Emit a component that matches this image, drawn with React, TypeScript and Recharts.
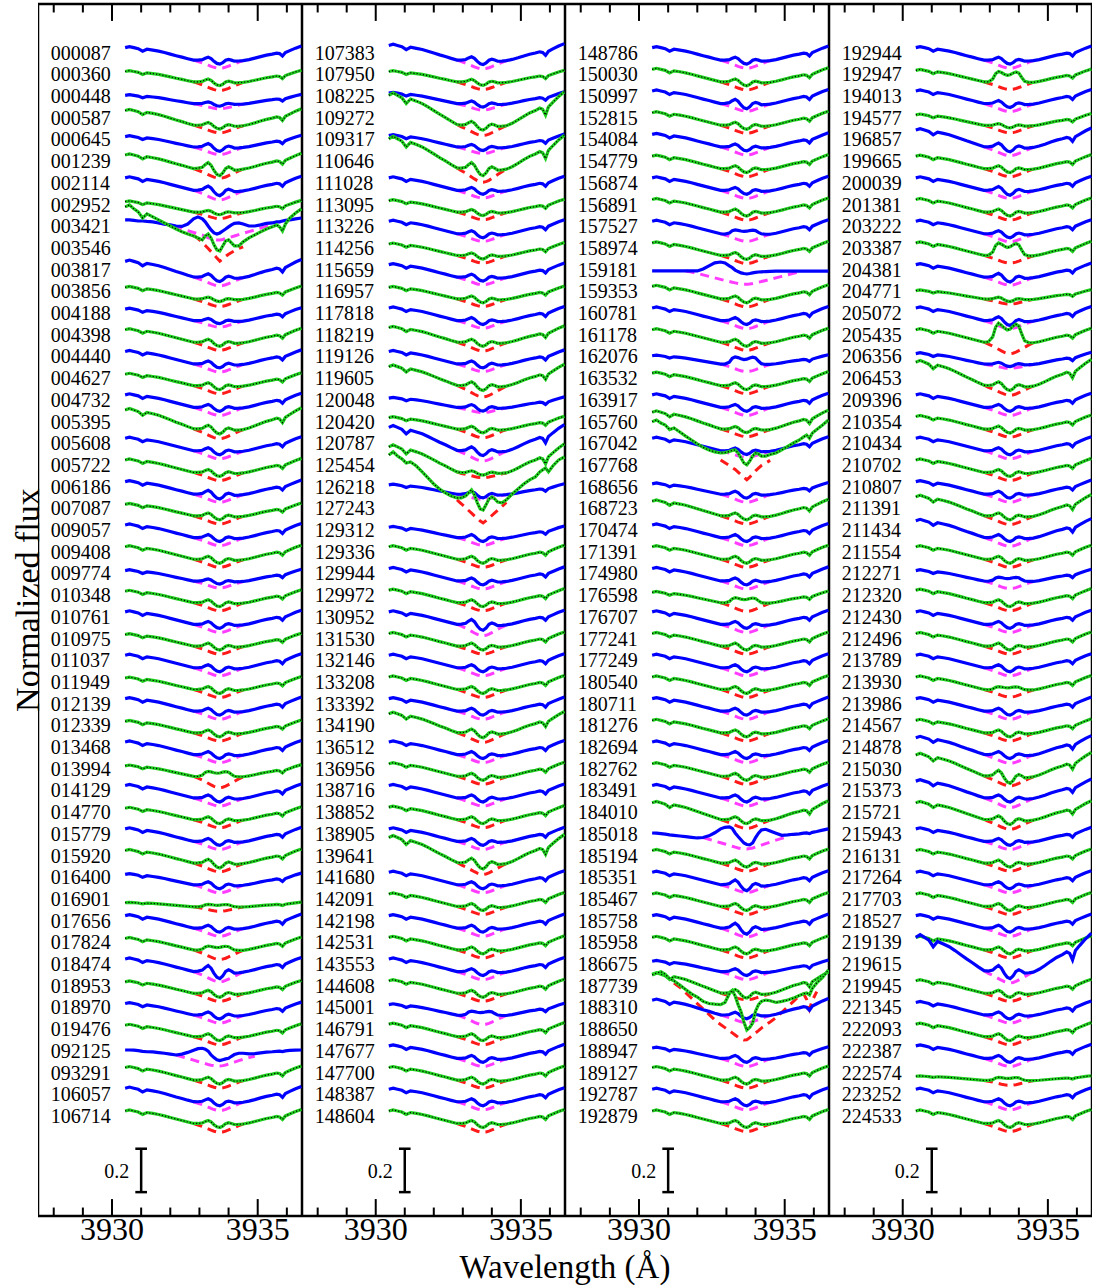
import {
  ComposedChart,
  Line,
  ReferenceArea,
  ReferenceLine,
  Scatter,
  XAxis,
  YAxis,
} from 'recharts'

// wavelength grid (Å) shared by every spectrum
const WAVE = [
  3930.45, 3930.6, 3930.75, 3930.9, 3931.05, 3931.2, 3931.4, 3931.6, 3931.8, 3932.0, 3932.2,
  3932.4, 3932.6, 3932.8, 3932.95, 3933.1, 3933.2, 3933.3, 3933.4, 3933.5, 3933.6, 3933.7,
  3933.8, 3933.9, 3934.0, 3934.1, 3934.2, 3934.35, 3934.5, 3934.7, 3934.9, 3935.1, 3935.3,
  3935.5, 3935.65, 3935.75, 3935.85, 3935.95, 3936.1, 3936.3, 3936.5,
]

// broad photospheric profile, height above the line-core continuum (1 = blue edge)
const WING = [
  1.0, 1.08, 1.0, 0.92, 0.73, 0.88, 0.81, 0.73, 0.62, 0.5, 0.38, 0.27, 0.15, 0.04, 0, 0, 0, 0, 0,
  0, 0, 0, 0, 0, 0, 0, 0, 0, 0, 0.08, 0.19, 0.31, 0.42, 0.5, 0.58, 0.54, 0.35, 0.62, 0.77, 0.96,
  1.12,
]

// Ca II K core reversal (dip = -1 at line centre)
const CORE = [
  0, 0, 0, 0, 0, 0, 0, 0, 0, 0, 0, 0, 0, 0, 0.15, 0.3, 0.7, 1.0, 0.6, -0.2, -0.8, -1.0, -0.6, 0.1,
  0.35, 0.15, -0.15, -0.1, 0, 0, 0, 0, 0, 0, 0, 0, 0, 0, 0, 0, 0,
]

// double-peaked core emission (peak = 1)
const EMIT = [
  0, 0, 0, 0, 0, 0, 0, 0, 0, 0, 0, 0, 0, 0, 0.05, 0.3, 0.8, 1.0, 0.9, 0.75, 0.65, 0.7, 0.85, 0.95,
  0.85, 0.45, 0.1, 0, 0, 0, 0, 0, 0, 0, 0, 0, 0, 0, 0, 0, 0,
]

// interstellar absorption model (depth = 1 at line centre)
const FIT: (number | null)[] = [
  null, null, null, null, null, null, null, null, null, null, null, null, null, 0, 0.12, 0.3,
  0.45, 0.6, 0.75, 0.88, 0.97, 1.0, 0.96, 0.86, 0.72, 0.57, 0.42, 0.2, 0, null, null, null, null,
  null, null, null, null, null, null, null, null,
]

// stars whose spectra do not follow the common shape: flux relative to their offset level
const S003421 = [
  0.066, 0.066, 0.064, 0.061, 0.061, 0.059, 0.057, 0.052, 0.047, 0.043, 0.038, 0.036, 0.047,
  0.071, 0.08, 0.071, 0.057, 0.038, 0.02, 0.006, 0.001, 0.006, 0.015, 0.024, 0.034, 0.043, 0.05,
  0.052, 0.047, 0.038, 0.038, 0.043, 0.05, 0.052, 0.057, 0.057, 0.061, 0.064, 0.066, 0.071, 0.075,
]
const F003421 = [
  null, null, null, null, null, null, null, 0.052, 0.047, 0.04, 0.032, 0.024, 0.016, 0.008, 0.002,
  -0.004, -0.01, -0.016, -0.02, -0.024, -0.026, -0.026, -0.024, -0.02, -0.016, -0.012, -0.008,
  -0.002, 0.004, 0.012, 0.02, 0.028, 0.036, 0.044, 0.05, null, null, null, null, null, null,
]
const S003546 = [
  0.226, 0.235, 0.217, 0.203, 0.175, 0.194, 0.18, 0.166, 0.152, 0.138, 0.124, 0.111, 0.101,
  0.092, 0.083, 0.074, 0.092, 0.101, 0.083, 0.051, 0.028, 0.023, 0.046, 0.069, 0.074, 0.06, 0.046,
  0.046, 0.065, 0.083, 0.097, 0.111, 0.124, 0.134, 0.143, 0.134, 0.115, 0.147, 0.175, 0.198, 0.217,
]
const F003546 = [
  null, null, null, null, null, null, null, null, null, null, null, null, null, 0.095, 0.08, 0.062,
  0.048, 0.034, 0.02, 0.006, -0.01, -0.024, -0.014, -0.002, 0.008, 0.016, 0.024, 0.034, 0.042,
  null, null, null, null, null, null, null, null, null, null, null, null,
]
const S092125 = [
  0.041, 0.041, 0.04, 0.038, 0.035, 0.033, 0.032, 0.029, 0.026, 0.022, 0.018, 0.022, 0.03, 0.04,
  0.047, 0.049, 0.045, 0.036, 0.018, 0.006, -0.004, -0.008, -0.004, 0.0, 0.003, 0.012, 0.02,
  0.026, 0.026, 0.023, 0.024, 0.028, 0.031, 0.033, 0.035, 0.036, 0.034, 0.037, 0.039, 0.04, 0.041,
]
const F092125 = [
  null, null, null, null, null, null, null, null, null, null, 0.018, 0.01, 0.002, -0.006, -0.012,
  -0.018, -0.022, -0.026, -0.029, -0.031, -0.033, -0.033, -0.031, -0.028, -0.024, -0.02, -0.015,
  -0.008, -0.002, 0.006, 0.012, null, null, null, null, null, null, null, null, null, null,
]
const S127243 = [
  0.283, 0.297, 0.278, 0.265, 0.246, 0.251, 0.232, 0.205, 0.177, 0.149, 0.126, 0.108, 0.094,
  0.085, 0.085, 0.094, 0.108, 0.122, 0.099, 0.062, 0.034, 0.029, 0.053, 0.08, 0.089, 0.08, 0.066,
  0.062, 0.076, 0.103, 0.126, 0.149, 0.168, 0.182, 0.205, 0.214, 0.223, 0.205, 0.232, 0.26, 0.274,
]
const F127243 = [
  null, null, null, null, null, null, null, null, null, null, null, null, null, 0.076, 0.058,
  0.039, 0.027, 0.015, 0.002, -0.01, -0.022, -0.03, -0.02, -0.008, 0.004, 0.016, 0.028, 0.046,
  0.064, null, null, null, null, null, null, null, null, null, null, null, null,
]
const S159181 = [
  0.031, 0.031, 0.031, 0.031, 0.031, 0.031, 0.031, 0.031, 0.031, 0.031, 0.04, 0.054, 0.068, 0.072,
  0.068, 0.054, 0.046, 0.035, 0.028, 0.022, 0.019, 0.017, 0.019, 0.022, 0.024, 0.026, 0.027,
  0.028, 0.029, 0.03, 0.03, 0.03, 0.03, 0.03, 0.03, 0.03, 0.03, 0.03, 0.03, 0.03, 0.03,
]
const F159181 = [
  null, null, null, null, null, null, null, 0.031, 0.026, 0.02, 0.013, 0.006, -0.001, -0.008,
  -0.013, -0.018, -0.021, -0.024, -0.027, -0.029, -0.03, -0.03, -0.029, -0.027, -0.024, -0.021,
  -0.018, -0.013, -0.008, -0.001, 0.006, 0.013, 0.02, 0.027, null, null, null, null, null, null,
  null,
]
const S167768 = [
  0.236, 0.244, 0.23, 0.221, 0.2, 0.207, 0.189, 0.17, 0.152, 0.134, 0.118, 0.106, 0.097, 0.092,
  0.094, 0.099, 0.104, 0.106, 0.092, 0.069, 0.046, 0.037, 0.055, 0.078, 0.092, 0.088, 0.078,
  0.078, 0.085, 0.092, 0.106, 0.122, 0.138, 0.152, 0.166, 0.175, 0.16, 0.184, 0.2, 0.221, 0.244,
]
const F167768 = [
  null, null, null, null, null, null, null, null, null, null, null, null, null, 0.06, 0.047, 0.034,
  0.025, 0.016, 0.004, -0.008, -0.02, -0.031, -0.019, -0.005, 0.01, 0.022, 0.034, 0.046, 0.058,
  null, null, null, null, null, null, null, null, null, null, null, null,
]
const S185018 = [
  0.041, 0.04, 0.038, 0.036, 0.032, 0.03, 0.027, 0.024, 0.021, 0.018, 0.02, 0.028, 0.042, 0.06,
  0.067, 0.069, 0.062, 0.041, 0.025, 0.01, -0.005, -0.012, -0.014, -0.005, 0.02, 0.04, 0.055,
  0.058, 0.05, 0.04, 0.03, 0.032, 0.035, 0.037, 0.04, 0.041, 0.038, 0.044, 0.048, 0.054, 0.06,
]
const F185018 = [
  null, null, null, null, null, null, null, null, null, null, 0.02, 0.012, 0.004, -0.004, -0.01,
  -0.016, -0.02, -0.024, -0.028, -0.031, -0.033, -0.033, -0.031, -0.028, -0.024, -0.02, -0.015,
  -0.008, -0.001, 0.008, 0.016, 0.024, null, null, null, null, null, null, null, null, null,
]
const S188650 = [
  0.287, 0.295, 0.302, 0.29, 0.27, 0.26, 0.24, 0.22, 0.2, 0.185, 0.165, 0.155, 0.152, 0.15, 0.16,
  0.2, 0.215, 0.19, 0.15, 0.118, 0.07, 0.033, 0.045, 0.065, 0.12, 0.15, 0.165, 0.171, 0.168, 0.16,
  0.165, 0.171, 0.18, 0.192, 0.2, 0.204, 0.195, 0.225, 0.25, 0.275, 0.31,
]
const F188650 = [
  null, null, null, null, null, 0.25, 0.23, 0.205, 0.18, 0.155, 0.13, 0.105, 0.08, 0.058, 0.044,
  0.03, 0.02, 0.01, 0.0, -0.008, -0.013, -0.012, -0.002, 0.01, 0.02, 0.03, 0.042, 0.057, 0.07,
  0.09, 0.115, 0.14, 0.165, 0.19, 0.2, 0.175, 0.13, 0.17, 0.21, null, null,
]

const SPECIAL: Record<string, [number[], (number | null)[]]> = {
  '003421': [S003421, F003421],
  '003546': [S003546, F003546],
  '092125': [S092125, F092125],
  '127243': [S127243, F127243],
  '159181': [S159181, F159181],
  '167768': [S167768, F167768],
  '185018': [S185018, F185018],
  '188650': [S188650, F188650],
}

// panel 1
const IDS_A = [
  '000087', '000360', '000448', '000587', '000645', '001239', '002114', '002952', '003421',
  '003546', '003817', '003856', '004188', '004398', '004440', '004627', '004732', '005395',
  '005608', '005722', '006186', '007087', '009057', '009408', '009774', '010348', '010761',
  '010975', '011037', '011949', '012139', '012339', '013468', '013994', '014129', '014770',
  '015779', '015920', '016400', '016901', '017656', '017824', '018474', '018953', '018970',
  '019476', '092125', '093291', '106057', '106714',
]
const WING_A = [
  0.06, 0.05, 0.04, 0.07, 0.05, 0.065, 0.06, 0.05, 0, 0, 0.075, 0.055, 0.055, 0.06, 0.06, 0.055,
  0.06, 0.09, 0.06, 0.06, 0.06, 0.055, 0.06, 0.06, 0.05, 0.055, 0.06, 0.055, 0.06, 0.055, 0.06,
  0.055, 0.06, 0.05, 0.06, 0.055, 0.06, 0.06, 0.05, 0.02, 0.06, 0.055, 0.06, 0.055, 0.055, 0.055,
  0, 0.06, 0.065, 0.06,
]
const CORE_A = [
  0.016, 0.015, 0.01, 0.015, 0.018, 0.03, 0.022, 0.01, 0, 0, 0.018, 0.01, 0.012, 0.016, 0.016,
  0.016, 0.016, 0.02, 0.016, 0.016, 0.02, 0.016, 0.016, 0.016, 0.012, 0.016, 0.016, 0.016, 0.016,
  0.016, 0.016, 0.016, 0.016, 0, 0.016, 0.016, 0.016, 0.02, 0.016, 0, 0.016, 0, 0.03, 0.016,
  0.016, 0.016, 0, 0.016, 0.016, 0.016,
]
const EMIT_A = [
  0, 0, 0, 0, 0, 0, 0, 0, 0, 0, 0, 0, 0, 0, 0, 0, 0, 0, 0, 0, 0, 0, 0, 0, 0, 0, 0, 0, 0, 0, 0, 0,
  0, 0.025, 0, 0, 0, 0, 0, 0.012, 0, 0.02, 0, 0, 0, 0, 0, 0, 0, 0,
]
const FIT_A = [
  0.035, 0.038, 0.022, 0.033, 0.033, 0.042, 0.042, 0.028, 0, 0, 0.038, 0.033, 0.028, 0.035, 0.035,
  0.035, 0.035, 0.042, 0.035, 0.035, 0.035, 0.035, 0.035, 0.035, 0.03, 0.035, 0.035, 0.035, 0.035,
  0.035, 0.035, 0.035, 0.035, 0.05, 0.035, 0.035, 0.035, 0.038, 0.035, 0.02, 0.035, 0.042, 0.045,
  0.035, 0.035, 0.035, 0, 0.035, 0.038, 0.038,
]

// panel 2
const IDS_B = [
  '107383', '107950', '108225', '109272', '109317', '110646', '111028', '113095', '113226',
  '114256', '115659', '116957', '117818', '118219', '119126', '119605', '120048', '120420',
  '120787', '125454', '126218', '127243', '129312', '129336', '129944', '129972', '130952',
  '131530', '132146', '133208', '133392', '134190', '136512', '136956', '138716', '138852',
  '138905', '139641', '141680', '142091', '142198', '142531', '143553', '144608', '145001',
  '146791', '147677', '147700', '148387', '148604',
]
const WING_B = [
  0.07, 0.05, 0.05, 0.14, 0.055, 0.14, 0.06, 0.055, 0.06, 0.055, 0.06, 0.055, 0.06, 0.07, 0.06,
  0.09, 0.045, 0.055, 0.11, 0.12, 0.045, 0, 0.05, 0.06, 0.06, 0.06, 0.06, 0.06, 0.06, 0.06, 0.06,
  0.09, 0.06, 0.06, 0.06, 0.06, 0.06, 0.12, 0.06, 0.06, 0.06, 0.06, 0.06, 0.06, 0.05, 0.06, 0.06,
  0.06, 0.06, 0.06,
]
const CORE_B = [
  0.018, 0.014, 0.014, 0.02, 0.014, 0.03, 0.016, 0.014, 0.016, 0.014, 0.016, 0.016, 0.016, 0.016,
  0.016, 0.02, 0.015, 0.015, 0.02, 0.01, 0.015, 0, 0.016, 0.016, 0.016, 0.016, 0.025, 0.016,
  0.016, 0.016, 0.016, 0.02, 0.016, 0.016, 0.016, 0.016, 0.016, 0.025, 0.016, 0.016, 0.016, 0.016,
  0.016, 0.016, 0, 0.016, 0.016, 0.016, 0.016, 0.016,
]
const EMIT_B = [
  0, 0, 0, 0, 0, 0, 0, 0, 0, 0, 0, 0, 0, 0, 0, 0, 0, 0, 0, 0, 0, 0, 0, 0, 0, 0, 0, 0, 0, 0, 0, 0,
  0, 0, 0, 0, 0, 0, 0, 0, 0, 0, 0, 0, 0.02, 0, 0, 0, 0, 0,
]
const FIT_B = [
  0.038, 0.033, 0.028, 0.045, 0.028, 0.06, 0.033, 0.033, 0.033, 0.033, 0.033, 0.033, 0.033, 0.038,
  0.033, 0.05, 0.022, 0.038, 0.045, 0.022, 0.022, 0, 0.033, 0.035, 0.035, 0.035, 0.05, 0.035,
  0.035, 0.035, 0.035, 0.042, 0.035, 0.035, 0.035, 0.035, 0.035, 0.05, 0.035, 0.035, 0.035, 0.035,
  0.035, 0.035, 0.042, 0.035, 0.035, 0.035, 0.035, 0.038,
]

// panel 3
const IDS_C = [
  '148786', '150030', '150997', '152815', '154084', '154779', '156874', '156891', '157527',
  '158974', '159181', '159353', '160781', '161178', '162076', '163532', '163917', '165760',
  '167042', '167768', '168656', '168723', '170474', '171391', '174980', '176598', '176707',
  '177241', '177249', '180540', '180711', '181276', '182694', '182762', '183491', '184010',
  '185018', '185194', '185351', '185467', '185758', '185958', '186675', '187739', '188310',
  '188650', '188947', '189127', '192787', '192879',
]
const WING_C = [
  0.06, 0.06, 0.06, 0.06, 0.06, 0.06, 0.06, 0.06, 0.06, 0.06, 0, 0.06, 0.06, 0.06, 0.04, 0.06,
  0.06, 0.08, 0.06, 0, 0.05, 0.07, 0.06, 0.06, 0.06, 0.05, 0.06, 0.06, 0.06, 0.06, 0.06, 0.06,
  0.06, 0.06, 0.06, 0.08, 0, 0.06, 0.06, 0.06, 0.06, 0.06, 0.05, 0.09, 0.07, 0, 0.05, 0.06,
  0.06, 0.06,
]
const CORE_C = [
  0.016, 0.016, 0.022, 0.016, 0.016, 0.016, 0.016, 0.016, 0, 0.016, 0, 0.016, 0.016, 0.016, 0,
  0.016, 0.016, 0.014, 0.015, 0, 0.016, 0.016, 0.016, 0.016, 0.016, 0, 0.016, 0.016, 0.016, 0.016,
  0.016, 0.016, 0.016, 0.016, 0.016, 0.016, 0, 0.016, 0.025, 0.016, 0.025, 0.016, 0.016, 0.02,
  0.015, 0, 0.016, 0.016, 0.016, 0.016,
]
const EMIT_C = [
  0, 0, 0, 0, 0, 0, 0, 0, 0.02, 0, 0, 0, 0, 0, 0.035, 0, 0, 0, 0, 0, 0, 0, 0, 0, 0, 0.025, 0, 0,
  0, 0, 0, 0, 0, 0, 0, 0, 0, 0, 0, 0, 0, 0, 0, 0, 0, 0, 0, 0, 0, 0,
]
const FIT_C = [
  0.035, 0.035, 0.033, 0.035, 0.035, 0.035, 0.035, 0.035, 0.033, 0.035, 0, 0.035, 0.035, 0.035,
  0.033, 0.035, 0.035, 0.033, 0.028, 0, 0.035, 0.035, 0.035, 0.035, 0.035, 0.038, 0.035, 0.035,
  0.035, 0.035, 0.035, 0.035, 0.035, 0.035, 0.035, 0.038, 0, 0.035, 0.033, 0.035, 0.038, 0.035,
  0.035, 0.028, 0.033, 0, 0.035, 0.035, 0.035, 0.035,
]

// panel 4
const IDS_D = [
  '192944', '192947', '194013', '194577', '196857', '199665', '200039', '201381', '203222',
  '203387', '204381', '204771', '205072', '205435', '206356', '206453', '209396', '210354',
  '210434', '210702', '210807', '211391', '211434', '211554', '212271', '212320', '212430',
  '212496', '213789', '213930', '213986', '214567', '214878', '215030', '215373', '215721',
  '215943', '216131', '217264', '217703', '218527', '219139', '219615', '219945', '221345',
  '222093', '222387', '222574', '223252', '224533',
]
const WING_D = [
  0.06, 0.055, 0.06, 0.05, 0.08, 0.06, 0.06, 0.06, 0.06, 0.06, 0.06, 0.04, 0.06, 0.06, 0.05, 0.11,
  0.06, 0.06, 0.06, 0.06, 0.06, 0.09, 0.08, 0.06, 0.05, 0.06, 0.06, 0.06, 0.06, 0.06, 0.06, 0.06,
  0.08, 0.1, 0.08, 0.08, 0.06, 0.06, 0.06, 0.06, 0.06, 0.06, 0.16, 0.06, 0.06, 0.06, 0.06, 0.02,
  0.06, 0.06,
]
const CORE_D = [
  0.016, 0, 0.016, 0.01, 0.02, 0.016, 0.02, 0.016, 0.016, 0, 0.02, 0.01, 0.02, 0, 0.01, 0.02,
  0.016, 0.016, 0.016, 0.016, 0.016, 0.016, 0.016, 0.016, 0, 0.016, 0.016, 0.016, 0.016, 0, 0.016,
  0.016, 0.016, 0.03, 0.016, 0.02, 0.016, 0.016, 0.016, 0.016, 0.016, 0.016, 0.03, 0.016, 0.016,
  0.016, 0.016, 0, 0.016, 0.016,
]
const EMIT_D = [
  0, 0.05, 0, 0, 0, 0, 0, 0, 0, 0.06, 0, 0, 0, 0.09, 0, 0, 0, 0, 0, 0, 0, 0, 0, 0, 0.02, 0, 0, 0,
  0, 0.015, 0, 0, 0, 0, 0, 0, 0, 0, 0, 0, 0, 0, 0, 0, 0, 0, 0, 0.015, 0, 0,
]
const FIT_D = [
  0.035, 0.033, 0.035, 0.033, 0.038, 0.035, 0.035, 0.035, 0.035, 0.033, 0.035, 0.022, 0.035, 0.05,
  0.018, 0.042, 0.035, 0.035, 0.035, 0.035, 0.035, 0.038, 0.038, 0.035, 0.033, 0.035, 0.035, 0.035,
  0.035, 0.033, 0.035, 0.035, 0.038, 0.042, 0.042, 0.042, 0.035, 0.035, 0.035, 0.035, 0.035, 0.035,
  0.05, 0.035, 0.035, 0.035, 0.035, 0.022, 0.035, 0.035,
]

const MAJOR_TICKS = [3930, 3935]
const MINOR_TICKS = [3928, 3929, 3931, 3932, 3933, 3934, 3936]

const X_MIN = 3927.46
const X_MAX = 3936.52
const Y_MIN = -4.324
const Y_MAX = 1.261
const STEP = 0.1 // vertical offset between consecutive stars
const LABEL_X = 3927.9
const SCALE_X = 3931.0
const SCALE_Y = -4.114

const FONT = '"Liberation Serif", "Times New Roman", Times, serif'
const BLUE = '#0000ff'
const GREEN = '#1fd01f'
const RED = '#ff1a1a'
const MAGENTA = '#ff3cff'

type Pt = { x: number; y: number }
interface Star {
  id: string
  even: boolean
  spec: Pt[]
  fit: Pt[]
  labelY: number
}

function buildStars(ids: string[], wing: number[], core: number[], emit: number[], fit: number[]) {
  return ids.map((id, i): Star => {
    const level = 1 - i * STEP
    const special = SPECIAL[id]
    let spec: Pt[]
    let model: Pt[]
    if (special) {
      const [s, f] = special
      spec = WAVE.map((x, k) => ({ x, y: level + s[k] }))
      model = WAVE.flatMap((x, k) => (f[k] == null ? [] : [{ x, y: level + (f[k] as number) }]))
    } else {
      spec = WAVE.map((x, k) => ({
        x,
        y: level + wing[i] * WING[k] + core[i] * CORE[k] + emit[i] * EMIT[k],
      }))
      model = WAVE.flatMap((x, k) =>
        FIT[k] == null ? [] : [{ x, y: level + wing[i] * WING[k] - fit[i] * (FIT[k] as number) }]
      )
    }
    return { id, even: i % 2 === 0, spec, fit: model, labelY: level + 0.037 }
  })
}

const PANELS = [
  { left: 38, width: 264, stars: buildStars(IDS_A, WING_A, CORE_A, EMIT_A, FIT_A) },
  { left: 302, width: 263, stars: buildStars(IDS_B, WING_B, CORE_B, EMIT_B, FIT_B) },
  { left: 565, width: 264, stars: buildStars(IDS_C, WING_C, CORE_C, EMIT_C, FIT_C) },
  { left: 829, width: 263, stars: buildStars(IDS_D, WING_D, CORE_D, EMIT_D, FIT_D) },
]

const MAJOR_LEN = 0.078
const MINOR_LEN = 0.039

function StarLabel(props: any) {
  const { cx, cy, payload } = props
  return (
    <text
      x={cx}
      y={cy}
      textAnchor="start"
      dominantBaseline="central"
      fontSize={20}
      fontFamily={FONT}
      fill="#000"
    >
      {payload.id}
    </text>
  )
}

function Panel({ left, width, stars }: { left: number; width: number; stars: Star[] }) {
  const labels = stars.map((s) => ({ x: LABEL_X, y: s.labelY, id: s.id }))
  return (
    <div style={{ position: 'absolute', left, top: 0 }}>
      <ComposedChart width={width} height={1276} margin={{ top: 4, right: 0, bottom: 0, left: 0 }}>
        <XAxis
          type="number"
          dataKey="x"
          domain={[X_MIN, X_MAX]}
          allowDataOverflow
          ticks={MAJOR_TICKS}
          axisLine={false}
          tickLine={false}
          tickSize={1}
          tickMargin={0}
          height={60}
          tick={{ fontSize: 32, fill: '#000', fontFamily: FONT }}
        />
        <YAxis type="number" dataKey="y" domain={[Y_MIN, Y_MAX]} allowDataOverflow hide />

        {stars.map((s) => (
          <Line
            key={s.id + '-fit'}
            data={s.fit}
            dataKey="y"
            type="linear"
            stroke={s.even ? MAGENTA : RED}
            strokeWidth={3}
            strokeDasharray="9 6"
            dot={false}
            activeDot={false}
            isAnimationActive={false}
          />
        ))}
        {stars.flatMap((s) =>
          s.even
            ? [
                <Line
                  key={s.id}
                  data={s.spec}
                  dataKey="y"
                  type="linear"
                  stroke={BLUE}
                  strokeWidth={3.2}
                  dot={false}
                  activeDot={false}
                  isAnimationActive={false}
                />,
              ]
            : [
                <Line
                  key={s.id}
                  data={s.spec}
                  dataKey="y"
                  type="linear"
                  stroke={GREEN}
                  strokeWidth={3.2}
                  dot={false}
                  activeDot={false}
                  isAnimationActive={false}
                />,
                <Line
                  key={s.id + '-dots'}
                  data={s.spec}
                  dataKey="y"
                  type="linear"
                  stroke="#000"
                  strokeWidth={1.2}
                  strokeDasharray="1.2 2"
                  dot={false}
                  activeDot={false}
                  isAnimationActive={false}
                />,
              ]
        )}

        <ReferenceArea
          x1={X_MIN}
          x2={X_MAX}
          y1={Y_MIN}
          y2={Y_MAX}
          fill="none"
          stroke="#000"
          strokeWidth={2.5}
          ifOverflow="visible"
        />
        {[...MAJOR_TICKS.map((t) => [t, MAJOR_LEN]), ...MINOR_TICKS.map((t) => [t, MINOR_LEN])].flatMap(
          ([t, len]) => [
            <ReferenceLine
              key={'b' + t}
              segment={[
                { x: t, y: Y_MIN },
                { x: t, y: Y_MIN + len },
              ]}
              stroke="#000"
              strokeWidth={2}
              ifOverflow="visible"
            />,
            <ReferenceLine
              key={'t' + t}
              segment={[
                { x: t, y: Y_MAX },
                { x: t, y: Y_MAX - len },
              ]}
              stroke="#000"
              strokeWidth={2}
              ifOverflow="visible"
            />,
          ]
        )}

        {/* 0.2 flux scale bar */}
        <ReferenceLine
          segment={[
            { x: SCALE_X, y: SCALE_Y - 0.1 },
            { x: SCALE_X, y: SCALE_Y + 0.1 },
          ]}
          stroke="#000"
          strokeWidth={2.5}
          ifOverflow="visible"
          label={{ value: '0.2', position: 'left', offset: 12, fontSize: 20, fill: '#000', fontFamily: FONT }}
        />
        <ReferenceLine
          segment={[
            { x: SCALE_X - 0.2, y: SCALE_Y - 0.1 },
            { x: SCALE_X + 0.2, y: SCALE_Y - 0.1 },
          ]}
          stroke="#000"
          strokeWidth={2.5}
          ifOverflow="visible"
        />
        <ReferenceLine
          segment={[
            { x: SCALE_X - 0.2, y: SCALE_Y + 0.1 },
            { x: SCALE_X + 0.2, y: SCALE_Y + 0.1 },
          ]}
          stroke="#000"
          strokeWidth={2.5}
          ifOverflow="visible"
        />

        <Scatter data={labels} dataKey="y" shape={StarLabel} isAnimationActive={false} />
      </ComposedChart>
    </div>
  )
}

export default function App() {
  return (
    <div
      style={{
        position: 'absolute',
        left: 0,
        top: 0,
        width: 1094,
        height: 1287,
        background: '#fff',
        fontFamily: FONT,
        color: '#000',
      }}
    >
      {PANELS.map((p, i) => (
        <Panel key={i} left={p.left} width={p.width} stars={p.stars} />
      ))}
      <div
        style={{
          position: 'absolute',
          left: 28,
          top: 600,
          transform: 'translate(-50%, -50%) rotate(-90deg)',
          fontSize: 34,
          lineHeight: 1,
          whiteSpace: 'nowrap',
        }}
      >
        Normalized flux
      </div>
      <div
        style={{
          position: 'absolute',
          left: 565,
          top: 1267,
          transform: 'translate(-50%, -50%)',
          fontSize: 33,
          lineHeight: 0.85,
          whiteSpace: 'nowrap',
        }}
      >
        Wavelength (Å)
      </div>
    </div>
  )
}
